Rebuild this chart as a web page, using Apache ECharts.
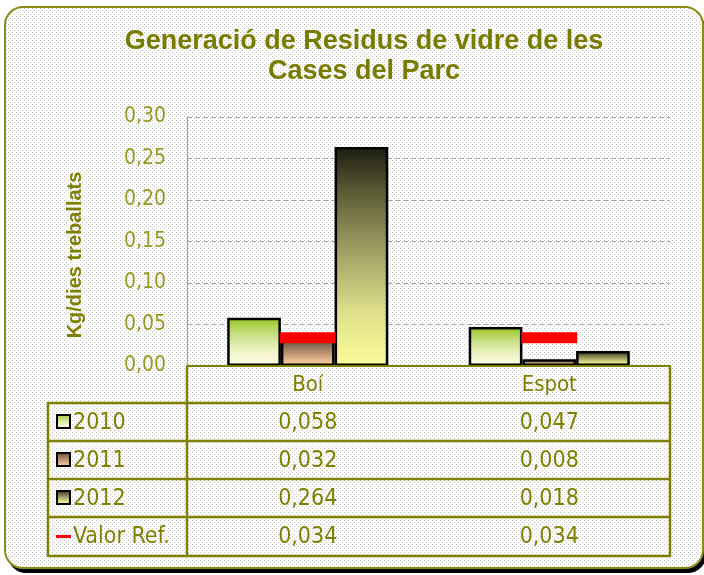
<!DOCTYPE html>
<html>
<head>
<meta charset="utf-8">
<script src="https://cdn.jsdelivr.net/npm/echarts@6/dist/echarts.min.js"></script>
<style>
  html, body { margin: 0; padding: 0; background: #ffffff; }
  #chart { width: 704px; height: 575px; }
</style>
</head>
<body>
<div id="chart"></div>
<script>
// Data
const categories = ['Boí', 'Espot'];
const seriesNames = ['2010', '2011', '2012'];
const values2010 = [0.058, 0.047];
const values2011 = [0.032, 0.008];
const values2012 = [0.264, 0.018];
const refName = 'Valor Ref.';
const refValues = [0.034, 0.034];
const chartTitle = 'Generació de Residus de vidre de les\nCases del Parc';
const yAxisTitle = 'Kg/dies treballats';

// Styling
const OLIVE = '#808000';
const TICK_OLIVE = '#9a9a22';
const TAHOMA_LIKE = '"DejaVu Sans Condensed", "DejaVu Sans", sans-serif';
const ARIAL_LIKE = '"Liberation Sans", Arial, sans-serif';

const GRID = { left: 187, right: 670, top: 117, bottom: 366 };
const TABLE = { left: 48, rows: [403, 441, 479, 517, 556] };

function grad(stops) {
  return new echarts.graphic.LinearGradient(0, 0, 0, 1,
    stops.map(s => ({ offset: s[1], color: s[0] })));
}
const fills = [
  grad([['#96c622', 0], ['#cfe391', 0.4], ['#f3f6cf', 0.75], ['#fbfbe3', 1]]),
  grad([['#5e4c3c', 0], ['#b08a6c', 0.45], ['#e9bd93', 0.8], ['#f6cb9f', 1]]),
  grad([['#1c1c12', 0], ['#5a5a34', 0.2], ['#9a9a60', 0.45], ['#dede8a', 0.75], ['#fdfd9a', 1]])
];
const seriesValues = [values2010, values2011, values2012];

function dotPattern() {
  const c = document.createElement('canvas');
  c.width = 4; c.height = 4;
  const g = c.getContext('2d');
  g.fillStyle = '#ffffff';
  g.fillRect(0, 0, 4, 4);
  g.fillStyle = '#c6c6c6';
  g.fillRect(0, 0, 1, 1);
  g.fillRect(2, 2, 1, 1);
  return c;
}
const fmt3 = v => v.toFixed(3).replace('.', ',');

const chart = echarts.init(document.getElementById('chart'), null, { renderer: 'canvas' });

const series = seriesNames.map((name, i) => ({
  name: name,
  type: 'bar',
  data: seriesValues[i],
  barGap: '0%',
  barCategoryGap: '33.3%',
  itemStyle: { color: fills[i], borderColor: '#000000', borderWidth: 2.5 },
  z: 3
}));
series.push({
  name: refName,
  type: 'scatter',
  data: refValues,
  symbol: 'rect',
  symbolSize: [56, 11],
  itemStyle: { color: '#ff0000', opacity: 1 },
  z: 5
});

chart.setOption({
  animation: false,
  backgroundColor: 'transparent',
  title: {
    text: chartTitle,
    left: 359,
    top: 22,
    textAlign: 'center',
    textStyle: {
      fontFamily: ARIAL_LIKE,
      fontWeight: 'bold',
      fontSize: 27,
      lineHeight: 30,
      color: '#7b7b00'
    }
  },
  grid: {
    left: GRID.left,
    right: 704 - GRID.right,
    top: GRID.top,
    bottom: 575 - GRID.bottom
  },
  xAxis: {
    type: 'category',
    data: categories,
    axisLine: { show: true, lineStyle: { color: OLIVE, width: 2 } },
    axisTick: { show: false },
    axisLabel: {
      color: OLIVE,
      fontFamily: TAHOMA_LIKE,
      fontSize: 22,
      margin: 8
    },
    z: 10
  },
  yAxis: {
    type: 'value',
    min: 0,
    max: 0.3,
    interval: 0.05,
    axisLine: { show: true, lineStyle: { color: '#a0a0a0', width: 1 } },
    axisTick: { show: false },
    axisLabel: {
      color: TICK_OLIVE,
      fontFamily: TAHOMA_LIKE,
      fontSize: 21,
      margin: 21,
      formatter: v => v.toFixed(2).replace('.', ',')
    },
    splitLine: { show: true, lineStyle: { color: '#a4a4a4', type: [5, 3], width: 1 } }
  },
  series: series
});

// Frame, background texture, axis title and data table
const centers = categories.map((c, i) => chart.convertToPixel({ xAxisIndex: 0 }, i));
const elements = [];

elements.push({
  type: 'rect', z: -20, silent: true,
  shape: { x: 8, y: 12, width: 698, height: 561, r: 18 },
  style: { fill: '#000000' }
});
elements.push({
  type: 'rect', z: -19, silent: true,
  shape: { x: 5, y: 7, width: 698, height: 561, r: 18 },
  style: { fill: { image: dotPattern(), repeat: 'repeat' }, stroke: '#8a8a14', lineWidth: 2 }
});

elements.push({
  type: 'text', z: 21, silent: true,
  x: 75, y: 255, rotation: Math.PI / 2,
  style: {
    x: 0, y: 0, text: yAxisTitle,
    fill: OLIVE, font: 'bold 20px ' + ARIAL_LIKE,
    textAlign: 'center', textVerticalAlign: 'middle'
  }
});

const line = (x1, y1, x2, y2) => ({
  type: 'line', z: 20, silent: true,
  shape: { x1, y1, x2, y2 },
  style: { stroke: OLIVE, lineWidth: 2.5 }
});
TABLE.rows.forEach(y => elements.push(line(TABLE.left, y, GRID.right, y)));
elements.push(line(TABLE.left, TABLE.rows[0] - 1, TABLE.left, TABLE.rows[4] + 1));
elements.push(line(GRID.left, GRID.bottom, GRID.left, TABLE.rows[4] + 1));
elements.push(line(GRID.right, GRID.bottom - 1, GRID.right, TABLE.rows[4] + 1));

const rowLabels = seriesNames.concat([refName]);
const rowValues = seriesValues.concat([refValues]);
rowLabels.forEach((label, r) => {
  const cy = (TABLE.rows[r] + TABLE.rows[r + 1]) / 2;
  if (r < 3) {
    elements.push({
      type: 'rect', z: 21, silent: true,
      shape: { x: 57, y: cy - 7, width: 13, height: 13 },
      style: { fill: fills[r], stroke: '#000000', lineWidth: 2 }
    });
  } else {
    elements.push({
      type: 'rect', z: 21, silent: true,
      shape: { x: 56, y: cy - 1.5, width: 15, height: 3 },
      style: { fill: '#ff0000' }
    });
  }
  elements.push({
    type: 'text', z: 21, silent: true,
    style: {
      x: 73, y: cy + 1, text: label,
      fill: OLIVE, font: '23px ' + TAHOMA_LIKE,
      textAlign: 'left', textVerticalAlign: 'middle'
    }
  });
  rowValues[r].forEach((v, c) => {
    elements.push({
      type: 'text', z: 21, silent: true,
      style: {
        x: centers[c], y: cy + 1, text: fmt3(v),
        fill: OLIVE, font: '23px ' + TAHOMA_LIKE,
        textAlign: 'center', textVerticalAlign: 'middle'
      }
    });
  });
});

chart.setOption({ graphic: { elements: elements } });
</script>
</body>
</html>
